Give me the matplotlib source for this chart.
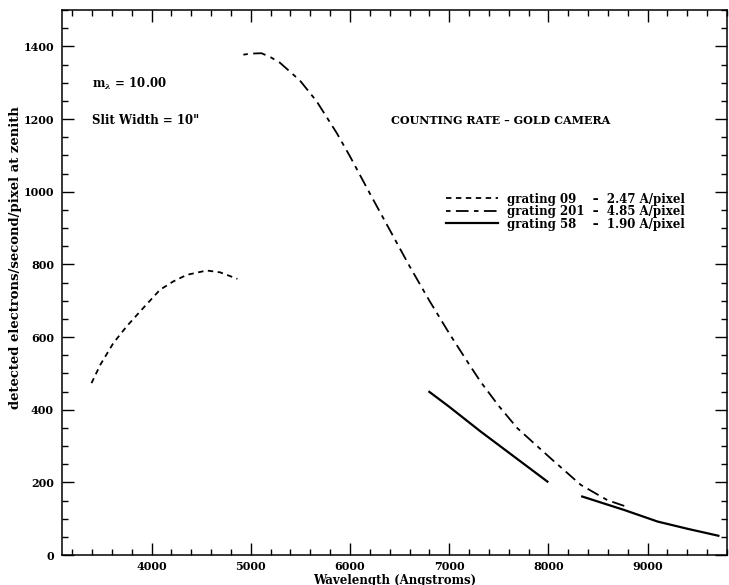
import numpy as np
import matplotlib.pyplot as plt
from matplotlib.ticker import MultipleLocator

plt.rcParams['font.family'] = ['DejaVu Serif']
plt.rcParams['font.weight'] = 'bold'
plt.rcParams['mathtext.fontset'] = 'dejavuserif'

# grating 09 (short dashes)
wl_09 = [3394, 3482, 3614, 3748, 3883, 4085, 4219, 4354, 4556, 4690, 4865]
rate_09 = [473, 523, 583, 629, 670, 730, 753, 771, 783, 778, 760]

# grating 201 (long dashes)
wl_201 = [4925, 5000, 5108, 5200, 5293, 5495, 5663, 5865, 6000, 6200, 6400, 6600,
          6800, 7000, 7200, 7316, 7500, 7687, 8023, 8326, 8594, 8786]
rate_201 = [1377, 1380, 1381, 1370, 1355, 1306, 1249, 1162, 1097, 995, 895, 795,
            700, 610, 525, 477, 410, 349, 266, 193, 151, 133]

# grating 58 (solid), two pieces
wl_58a = [6800, 7000, 7316, 7653, 7990]
rate_58a = [449, 408, 340, 271, 202]
wl_58b = [8340, 8763, 9101, 9404, 9713]
rate_58b = [161, 124, 92, 72, 53]

labels = ['grating 09    \u2013  2.47 A/pixel',
          'grating 201  \u2013  4.85 A/pixel',
          'grating 58    \u2013  1.90 A/pixel']

fig = plt.figure(figsize=(7.29, 5.85), dpi=100)
ax = fig.add_axes([62.3 / 729, 30 / 585, (727 - 62.3) / 729, 545 / 585])

l09, = ax.plot(wl_09, rate_09, color='black', lw=1.3, dashes=(3, 2.5))
l201, = ax.plot(wl_201, rate_201, color='black', lw=1.3, dashes=(2.5, 3, 7, 3))
l58, = ax.plot(wl_58a, rate_58a, color='black', lw=1.6)
ax.plot(wl_58b, rate_58b, color='black', lw=1.6)

ax.set_xlim(3100, 9800)
ax.set_ylim(0, 1500)
ax.xaxis.set_major_locator(MultipleLocator(1000))
ax.xaxis.set_minor_locator(MultipleLocator(200))
ax.yaxis.set_major_locator(MultipleLocator(200))
ax.yaxis.set_minor_locator(MultipleLocator(50))
ax.tick_params(which='both', direction='in', top=True, right=True,
               width=1, labelsize=8)
ax.tick_params(which='major', length=8.5)
ax.tick_params(which='minor', length=4.2)
ax.tick_params(axis='x', which='major', pad=4)
ax.tick_params(axis='y', which='major', pad=6)
for s in ax.spines.values():
    s.set_linewidth(1.1)

ax.set_xlabel('Wavelength (Angstroms)', fontsize=8.5, fontweight='bold')
ax.xaxis.set_label_coords(0.5, -0.034)
ax.set_ylabel('detected electrons/second/pixel at zenith', fontsize=9.5,
              fontweight='bold')
ax.yaxis.set_label_coords(-0.061, 0.545)

ax.text(0.045, 0.865, r'm$_{\lambda}$ = 10.00', transform=ax.transAxes,
        fontsize=8.5, va='center')
ax.text(0.045, 0.797, 'Slit Width = 10"', transform=ax.transAxes,
        fontsize=8.5, va='center')
ax.text(0.495, 0.797, 'COUNTING RATE \u2013 GOLD CAMERA', transform=ax.transAxes,
        fontsize=8, va='center')

ax.legend([l09, l201, l58], labels, loc='upper left',
          bbox_to_anchor=(0.578, 0.665), frameon=False, fontsize=8.5,
          handlelength=4.4, handletextpad=0.7, labelspacing=-0.04,
          borderpad=0, borderaxespad=0)

fig.savefig('out.png', dpi=100)
